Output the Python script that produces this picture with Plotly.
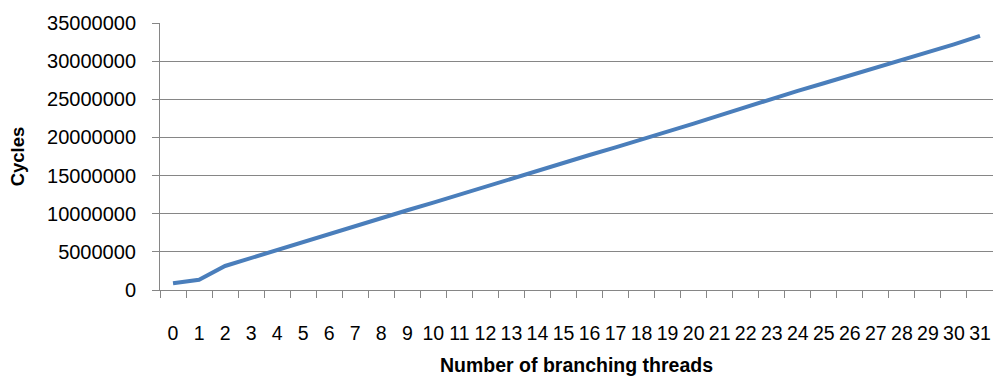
import plotly.graph_objects as go

# Branching thread count (category axis) and measured cycle counts
threads = [str(i) for i in range(32)]
cycles = [
    880000, 1350000, 3150000, 4200000, 5300000, 6300000, 7350000, 8350000,
    9400000, 10450000, 11450000, 12500000, 13600000, 14650000, 15700000, 16700000,
    17700000, 18700000, 19700000, 20700000, 21800000, 22900000, 24000000, 25100000,
    26100000, 27100000, 28100000, 29200000, 30200000, 31200000, 32200000, 33300000,
]
y_ticks = [0, 5000000, 10000000, 15000000, 20000000, 25000000, 30000000, 35000000]

FONT = "Liberation Sans"
GRID = "#868686"

fig = go.Figure()
fig.add_trace(go.Scatter(
    x=threads,
    y=cycles,
    mode="lines",
    line=dict(color="#4a7ebb", width=4),
    hoverinfo="skip",
))

fig.update_layout(
    width=993,
    height=379,
    margin=dict(l=160, r=0, t=23, b=89),
    paper_bgcolor="white",
    plot_bgcolor="white",
    showlegend=False,
    font=dict(family=FONT, size=20, color="#000000"),
)

fig.update_xaxes(
    type="category",
    range=[-0.5, 31.5],
    tickmode="array",
    tickvals=threads,
    ticktext=threads,
    tickangle=0,
    showgrid=False,
    showline=True,
    linecolor=GRID,
    linewidth=1,
    ticks="outside",
    tickson="boundaries",
    ticklen=7,
    tickcolor=GRID,
    tickfont=dict(family=FONT, size=19.5),
    ticklabelstandoff=26,
    title=dict(text="<b>Number of branching threads</b>",
               font=dict(family=FONT, size=19.5), standoff=14),
)

fig.update_yaxes(
    range=[0, 35000000],
    tickvals=y_ticks,
    tickformat="d",
    showgrid=True,
    gridcolor=GRID,
    gridwidth=1,
    showline=True,
    linecolor=GRID,
    linewidth=1,
    ticks="outside",
    ticklen=7,
    tickcolor=GRID,
    tickfont=dict(family=FONT, size=20),
    ticklabelstandoff=12,
    zeroline=False,
    title=dict(text="<b>Cycles</b>", font=dict(family=FONT, size=18.5), standoff=17),
)

fig.write_html("out.html")
